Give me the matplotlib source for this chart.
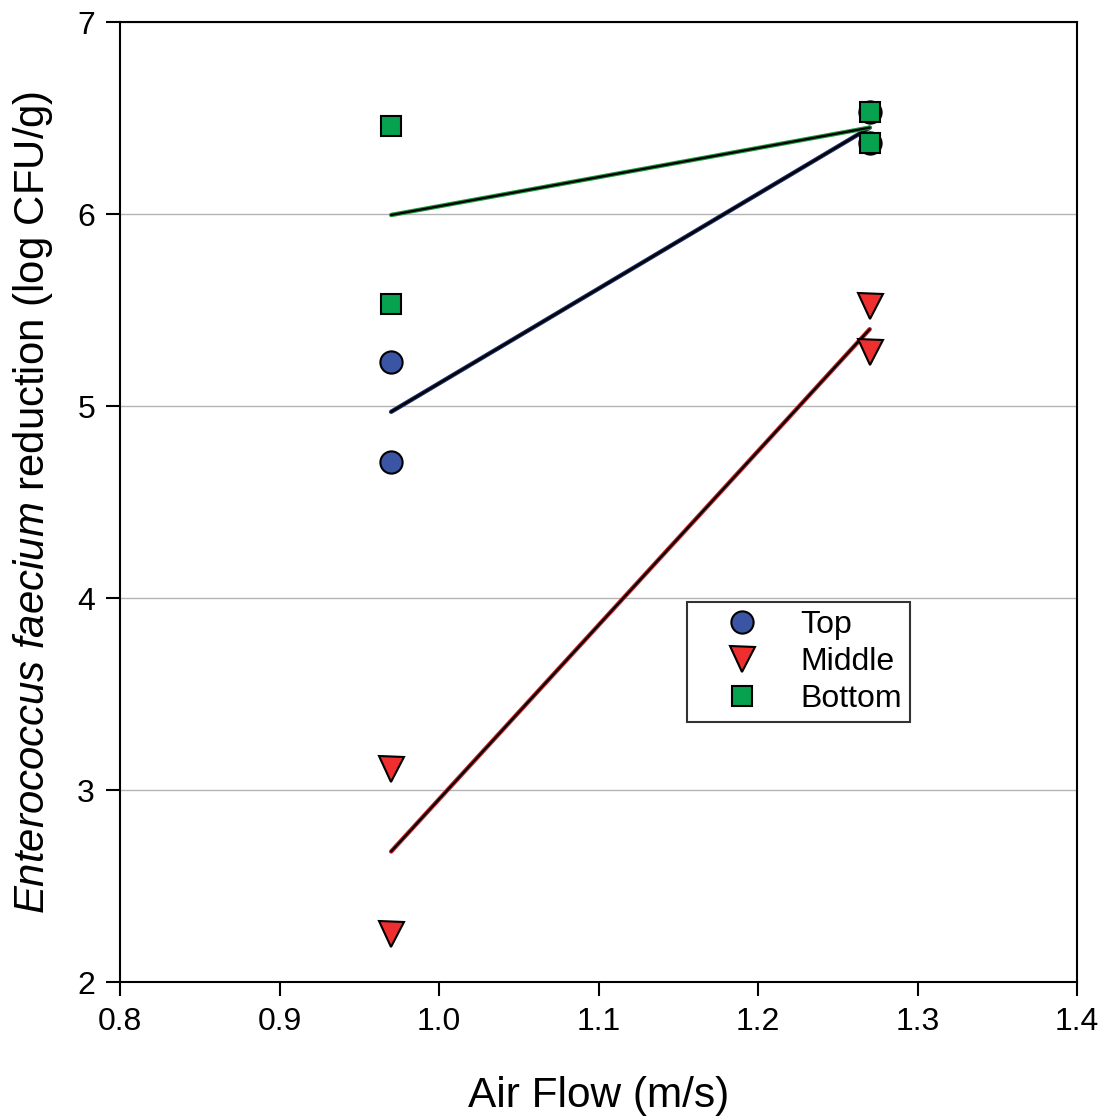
import matplotlib.pyplot as plt
import numpy as np

plt.rcParams['font.family'] = ['Liberation Sans', 'DejaVu Sans']
plt.rcParams['mathtext.fontset'] = 'custom'
plt.rcParams['mathtext.rm'] = 'Liberation Sans'
plt.rcParams['mathtext.it'] = 'Liberation Sans:italic'

# air flow levels (m/s)
x_low = 0.97
x_high = 1.27

# log reductions, two replicates per air flow
top_low = [5.23, 4.71]
top_high = [6.53, 6.37]
middle_low = [3.11, 2.25]
middle_high = [5.52, 5.28]
bottom_low = [6.46, 5.53]
bottom_high = [6.53, 6.37]

fig = plt.figure(figsize=(11.05, 11.18), dpi=100)
ax = fig.add_axes([0.1086, 0.1216, 0.8661, 0.8587])

series = [
    ("Top", top_low, top_high, "o", "#3b55a5", "#1c2e6b", 16),
    ("Middle", middle_low, middle_high, "v", "#ee2e2f", "#c8242a", 18),
    ("Bottom", bottom_low, bottom_high, "s", "#06a24f", "#1a9a3c", 15),
]

# regression lines (through the group means) first, then markers
for name, lo, hi, mk, fc, lc, ms in series:
    xs = np.array([x_low, x_high])
    ys = np.array([np.mean(lo), np.mean(hi)])
    ax.plot(xs, ys, color=lc, lw=3.2, zorder=3, solid_capstyle='round')
    ax.plot(xs, ys, color="black", lw=1.6, zorder=3, solid_capstyle='round')

for name, lo, hi, mk, fc, lc, ms in series:
    xx = [x_low] * len(lo) + [x_high] * len(hi)
    yy = lo + hi
    ax.plot(xx, yy, ls="none", marker=mk, markersize=ms,
            markerfacecolor=fc, markeredgecolor="black",
            markeredgewidth=1.5, label=name, zorder=4)

ax.set_xlim(0.8, 1.4)
ax.set_ylim(2, 7)
ax.set_xticks(np.arange(0.8, 1.41, 0.1))
ax.set_xticklabels(["0.8", "0.9", "1.0", "1.1", "1.2", "1.3", "1.4"])
ax.set_yticks([2, 3, 4, 5, 6, 7])
ax.tick_params(axis='both', direction='out', length=10, width=1.5,
               labelsize=23, top=False, right=False, pad=8)
ax.yaxis.grid(True, color="#b4b4b4", lw=1.0)
ax.set_axisbelow(True)
for sp in ax.spines.values():
    sp.set_linewidth(1.5)

ax.set_xlabel("Air Flow (m/s)", fontsize=30.5, labelpad=28)
ax.set_ylabel(r"$\mathit{Enterococcus\ faecium}$ reduction (log CFU/g)",
              fontsize=30.2, labelpad=16)

leg = ax.legend(loc="upper left", bbox_to_anchor=(0.592, 0.396),
                fontsize=23, frameon=True, fancybox=False, edgecolor="black",
                handletextpad=0.35, borderpad=0.25, labelspacing=0.22,
                handlelength=2.95, borderaxespad=0)
leg.get_frame().set_linewidth(1.5)

fig.savefig("out.png", dpi=100)
